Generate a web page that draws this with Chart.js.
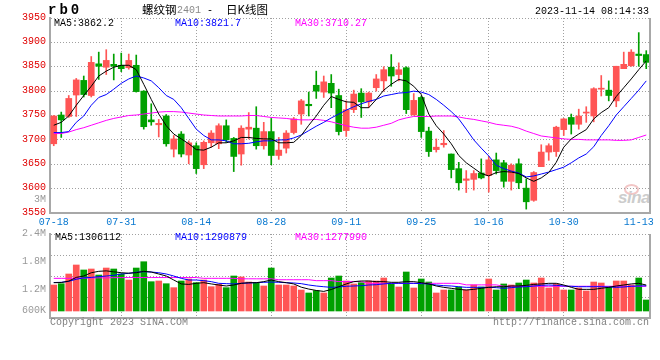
<!DOCTYPE html>
<html><head><meta charset="utf-8">
<script src="https://cdn.jsdelivr.net/npm/chart.js@4.4.0/dist/chart.umd.min.js"></script>
<style>
html,body{margin:0;padding:0;background:#fff;}
#wrap{position:relative;width:660px;height:360px;overflow:hidden;font-family:'Liberation Mono',monospace;font-size:10px;}
canvas{position:absolute;left:0;top:0;}
.t{position:absolute;white-space:pre;line-height:12px;font-family:'Liberation Mono',monospace;font-size:10px;color:#000;}
.cjk{font-family:'Noto Sans CJK SC',sans-serif;font-size:11.5px;line-height:13px;}
</style></head><body>
<div id="wrap">
<div class="t" style="left:624px;top:184px;width:11px;height:7px;border:2px solid #f2c6c6;border-radius:50%;"></div>
<div class="t" style="left:618px;top:189px;font:italic bold 17px 'Liberation Sans',sans-serif;line-height:17px;color:#cccccc;letter-spacing:-0.5px">sina</div>
<canvas id="price" width="660" height="360"></canvas>
<canvas id="vol" width="660" height="360"></canvas>
<div class="t" style="left:48px;top:3px;font:bold 14px 'Liberation Mono',monospace;line-height:14px;letter-spacing:3px">rb0</div>
<div class="t cjk" style="left:142px;top:3px">螺纹钢</div>
<div class="t" style="left:177px;top:5px;color:#888">2401</div>
<div class="t" style="left:207px;top:5px">-</div>
<div class="t cjk" style="left:226px;top:3px">日K线图</div>
<div class="t" style="right:11px;top:6px">2023-11-14 08:14:33</div>
<div class="t" style="left:54px;top:18px;color:#000">MA5:3862.2</div>
<div class="t" style="left:175px;top:18px;color:#0000ff">MA10:3821.7</div>
<div class="t" style="left:295px;top:18px;color:#ff00ff">MA30:3710.27</div>
<div class="t" id="vtop" style="right:614px;top:194px;color:#999999;text-align:right"></div>
<div class="t" style="left:55px;top:232px;color:#000">MA5:1306112</div>
<div class="t" style="left:175px;top:232px;color:#0000ff">MA10:1290879</div>
<div class="t" style="left:295px;top:232px;color:#ff00ff">MA30:1277990</div>
<div class="t" style="left:50px;top:317px;color:#808080">Copyright 2023 SINA.COM</div>
<div class="t" style="right:11px;top:317px;color:#808080">http://finance.sina.com.cn</div>
</div>
<script>
const DATES = ['07-18','07-19','07-20','07-21','07-24','07-25','07-26','07-27','07-28','07-31',
'08-01','08-02','08-03','08-04','08-07','08-08','08-09','08-10','08-11','08-14',
'08-15','08-16','08-17','08-18','08-21','08-22','08-23','08-24','08-25','08-28',
'08-29','08-30','08-31','09-01','09-04','09-05','09-06','09-07','09-08','09-11',
'09-12','09-13','09-14','09-15','09-18','09-19','09-20','09-21','09-22','09-25',
'09-26','09-27','09-28','10-09','10-10','10-11','10-12','10-13','10-16',
'10-17','10-18','10-19','10-20','10-23','10-24','10-25','10-26','10-27','10-30',
'10-31','11-01','11-02','11-03','11-06','11-07','11-08','11-09','11-10','11-13','11-14'];
const TICK_LABELS = ['07-18','07-31','08-14','08-28','09-11','09-25','10-16','10-30','11-13'];
const GRID_DATES = ['07-31','08-14','08-28','09-11','09-25','10-16','10-30'];

const OPEN = [3692,3751,3748,3792,3822,3791,3856,3849,3855,3853,
3848,3853,3800,3741,3731,3749,3681,3712,3669,3688,
3649,3694,3692,3729,3703,3671,3722,3724,3688,3717,
3668,3683,3715,3753,3773,3812,3798,3816,3791,3719,
3762,3796,3778,3807,3821,3849,3834,3848,3751,3787,
3718,3680,3690,3671,3641,3617,3619,3632,3627,3659,
3653,3615,3651,3601,3576,3645,3675,3676,3721,3746,
3732,3755,3749,3804,3802,3780,3846,3852,3876,3875];
const HIGH = [3750,3757,3791,3826,3831,3871,3880,3885,3876,3878,
3876,3874,3801,3774,3742,3752,3709,3717,3698,3694,
3698,3719,3733,3741,3705,3729,3756,3768,3736,3744,
3705,3719,3746,3783,3798,3841,3831,3834,3804,3780,
3802,3805,3798,3834,3850,3875,3858,3850,3795,3790,
3726,3702,3719,3671,3654,3637,3637,3661,3666,3673,
3658,3651,3661,3620,3635,3690,3692,3728,3744,3753,
3763,3768,3807,3832,3821,3851,3880,3885,3920,3883];
const LOW = [3688,3705,3746,3748,3788,3788,3824,3834,3823,3840,
3845,3798,3722,3730,3706,3687,3665,3665,3651,3631,
3641,3685,3682,3695,3635,3648,3702,3681,3681,3649,
3660,3673,3712,3732,3749,3785,3787,3766,3710,3707,
3756,3746,3766,3800,3800,3810,3821,3754,3751,3705,
3666,3675,3685,3622,3597,3592,3597,3620,3593,3630,
3603,3597,3600,3558,3574,3645,3658,3666,3709,3712,
3722,3736,3737,3790,3780,3768,3846,3851,3851,3846];
const CLOSE = [3749,3741,3785,3823,3793,3859,3851,3863,3851,3846,
3863,3799,3727,3737,3734,3692,3702,3671,3694,3641,
3695,3714,3729,3700,3666,3724,3726,3688,3717,3668,
3679,3714,3743,3780,3770,3800,3819,3796,3717,3762,
3794,3778,3796,3825,3844,3831,3844,3762,3781,3717,
3676,3685,3693,3639,3612,3620,3631,3622,3659,3637,
3615,3648,3612,3573,3633,3675,3688,3726,3743,3732,
3749,3757,3805,3806,3791,3851,3855,3880,3873,3859];

const MA5 = [3730,3736,3749,3771,3791,3810,3831,3841,3849,3853,
3853,3844,3814,3783,3753,3729,3712,3702,3692,3680,
3679,3685,3694,3694,3698,3705,3705,3703,3702,3702,
3694,3694,3695,3709,3730,3749,3771,3789,3783,3778,
3777,3766,3766,3783,3802,3814,3824,3821,3810,3793,
3753,3729,3712,3692,3668,3653,3642,3631,3626,3633,
3635,3634,3631,3622,3615,3622,3633,3654,3685,3702,
3712,3721,3743,3756,3766,3789,3807,3825,3844,3862];
const MA10 = [3715,3715,3717,3736,3749,3771,3787,3793,3804,3816,
3825,3831,3827,3821,3807,3791,3783,3766,3744,3722,
3709,3700,3700,3698,3692,3692,3693,3696,3698,3698,
3700,3700,3704,3710,3719,3728,3736,3745,3753,3761,
3768,3774,3779,3783,3790,3793,3796,3797,3800,3798,
3793,3783,3771,3758,3743,3722,3700,3683,3667,3648,
3641,3636,3632,3624,3626,3630,3634,3639,3644,3653,
3663,3671,3686,3709,3729,3751,3768,3785,3802,3821];
const MA30 = [3713,3713,3716,3721,3725,3730,3735,3740,3744,3747,
3750,3751,3753,3755,3757,3758,3758,3757,3755,3753,
3751,3750,3749,3749,3749,3749,3750,3750,3748,3746,
3745,3744,3742,3741,3741,3742,3740,3737,3733,3729,
3726,3724,3724,3726,3730,3734,3741,3745,3748,3748,
3748,3749,3749,3749,3747,3744,3742,3739,3736,3732,
3730,3728,3724,3718,3713,3708,3706,3704,3702,3701,
3701,3700,3700,3700,3700,3699,3699,3700,3705,3710];

const VOLUME = [1307000,1335000,1543000,1736000,1629000,1650000,1521000,1671000,1650000,1543000,
1414000,1671000,1806000,1378000,1393000,1335000,1250000,1393000,1436000,1357000,
1414000,1271000,1322000,1250000,1500000,1479000,1371000,1357000,1286000,1671000,
1307000,1307000,1286000,1200000,1136000,1186000,1136000,1457000,1500000,1393000,
1329000,1357000,1393000,1393000,1457000,1329000,1264000,1586000,1243000,1436000,
1371000,1136000,1200000,1200000,1264000,1200000,1307000,1264000,1436000,1200000,
1329000,1307000,1350000,1414000,1350000,1457000,1243000,1329000,1200000,1200000,
1243000,1179000,1371000,1350000,1264000,1393000,1393000,1307000,1457000,986000];
const VMA5 = [1357000,1360000,1390000,1470000,1500000,1570000,1600000,1610000,1590000,1570000,
1560000,1570000,1600000,1585000,1543000,1500000,1414000,1330000,1320000,1343000,
1357000,1330000,1307000,1286000,1307000,1343000,1357000,1357000,1379000,1414000,
1379000,1357000,1330000,1260000,1220000,1190000,1170000,1210000,1270000,1330000,
1379000,1393000,1393000,1379000,1379000,1365000,1365000,1379000,1379000,1357000,
1330000,1286000,1257000,1236000,1214000,1200000,1214000,1236000,1257000,1270000,
1270000,1286000,1286000,1300000,1320000,1330000,1343000,1343000,1307000,1257000,
1214000,1214000,1214000,1236000,1257000,1286000,1307000,1330000,1343000,1306000];
const VMA10 = [1360000,1365000,1386000,1430000,1460000,1470000,1486000,1500000,1515000,1543000,
1557000,1580000,1593000,1585000,1570000,1543000,1500000,1450000,1414000,1414000,
1400000,1379000,1343000,1336000,1330000,1343000,1350000,1357000,1365000,1370000,
1365000,1357000,1350000,1336000,1307000,1286000,1270000,1257000,1264000,1280000,
1286000,1293000,1307000,1314000,1330000,1343000,1343000,1343000,1343000,1336000,
1330000,1307000,1293000,1286000,1270000,1257000,1257000,1257000,1257000,1250000,
1236000,1250000,1264000,1270000,1286000,1300000,1307000,1300000,1286000,1280000,
1270000,1270000,1270000,1270000,1264000,1257000,1264000,1280000,1286000,1291000];
const VMA30 = [1450000,1450000,1450000,1455000,1455000,1460000,1460000,1460000,1465000,1465000,
1467000,1467000,1467000,1467000,1467000,1467000,1467000,1467000,1467000,1467000,
1450000,1450000,1450000,1450000,1450000,1440000,1440000,1440000,1440000,1440000,
1420000,1420000,1420000,1420000,1420000,1400000,1400000,1400000,1380000,1380000,
1380000,1380000,1343000,1343000,1343000,1343000,1343000,1343000,1343000,1343000,
1343000,1343000,1343000,1343000,1343000,1310000,1310000,1310000,1310000,1310000,
1280000,1280000,1280000,1280000,1280000,1280000,1280000,1280000,1280000,1280000,
1280000,1280000,1280000,1280000,1280000,1280000,1280000,1280000,1280000,1278000];

const PRICE_MIN = 3550, PRICE_MAX = 3950, PRICE_STEP = 50;
const VOL_MIN = 600000, VOL_MAX = 2400000, VOL_GRID_STEP = 450000, VOL_BASE = 750000;
const VOL_TICK_VALUES = [600000, 1200000, 1800000, 2400000];
const VOL_TICK_LABELS = ['600K', '1.2M', '1.8M', '2.4M'];
const VOL_TOP_LABEL = '3M';
document.getElementById('vtop').textContent = VOL_TOP_LABEL;

const RED = '#ff5555', GREEN = '#00a000';
const GRID = '#a0a0a0', FRAME = '#a8a8a8';
const colors = CLOSE.map((c, i) => c >= OPEN[i] ? RED : GREEN);

Chart.defaults.font.family = "'Liberation Mono', monospace";
Chart.defaults.font.size = 10;

const frame = {
  id: 'frame',
  afterDraw(chart) {
    const a = chart.chartArea, ctx = chart.ctx;
    ctx.save();
    ctx.strokeStyle = FRAME; ctx.lineWidth = 2;
    ctx.beginPath(); ctx.moveTo(a.right, a.top); ctx.lineTo(a.right, a.bottom); ctx.stroke();
    ctx.restore();
  }
};

function xAxis(showLabels) {
  return {
    offset: true,
    grid: { offset: false, drawTicks: false, lineWidth: 1,
      color: c => GRID_DATES.includes(DATES[c.index]) ? GRID : 'rgba(0,0,0,0)' },
    border: { display: true, color: FRAME, width: 2, dash: [1, 2] },
    ticks: { display: showLabels, autoSkip: false, maxRotation: 0, minRotation: 0, padding: 3,
      color: '#0878d0',
      callback: (v, i) => TICK_LABELS.includes(DATES[i]) ? DATES[i] : '' },
    afterFit: s => { s.height = showLabels ? 20 : 0; }
  };
}
const lineDs = (data, color, axis) => ({ type: 'line', data, borderColor: color, borderWidth: 1,
  pointRadius: 0, tension: 0, fill: false, order: 0, yAxisID: axis });

new Chart(document.getElementById('price'), {
  type: 'bar',
  data: {
    labels: DATES,
    datasets: [
      lineDs(MA5, '#000000', 'y'),
      lineDs(MA10, '#0000ff', 'y'),
      lineDs(MA30, '#ff00ff', 'y'),
      { type: 'bar', data: OPEN.map((o, i) => [o, CLOSE[i]]), backgroundColor: colors, borderWidth: 0,
        barThickness: 6, minBarLength: 1, grouped: false, order: 1, yAxisID: 'y' },
      { type: 'bar', data: LOW.map((l, i) => [l, HIGH[i]]), backgroundColor: colors, borderWidth: 0,
        barThickness: 1, grouped: false, order: 2, yAxisID: 'y' }
    ]
  },
  options: {
    responsive: false, animation: false, devicePixelRatio: 1,
    layout: { padding: { left: 0, right: 10, top: 18, bottom: 127 } },
    plugins: { legend: { display: false }, tooltip: { enabled: false } },
    scales: {
      x: xAxis(true),
      y: { min: PRICE_MIN, max: PRICE_MAX,
        ticks: { stepSize: PRICE_STEP, color: '#e00000', padding: 4, labelOffset: -1,
          callback: v => String(v) },
        grid: { color: GRID, drawTicks: false },
        border: { display: true, color: FRAME, width: 2, dash: [1, 2] },
        afterFit: s => { s.width = 50; } }
    }
  },
  plugins: [frame]
});

new Chart(document.getElementById('vol'), {
  type: 'bar',
  data: {
    labels: DATES,
    datasets: [
      lineDs(VMA5, '#000000', 'y'),
      lineDs(VMA10, '#0000ff', 'y'),
      lineDs(VMA30, '#ff00ff', 'y'),
      { type: 'bar', data: VOLUME, base: VOL_BASE, backgroundColor: colors, borderWidth: 0,
        barThickness: 6, order: 1, yAxisID: 'y' }
    ]
  },
  options: {
    responsive: false, animation: false, devicePixelRatio: 1,
    layout: { padding: { left: 0, right: 10, top: 234, bottom: 42 } },
    plugins: { legend: { display: false }, tooltip: { enabled: false } },
    scales: {
      x: xAxis(false),
      y: { position: 'left', weight: 0, min: VOL_MIN, max: VOL_MAX,
        ticks: { display: false, stepSize: VOL_GRID_STEP },
        grid: { color: GRID, drawTicks: false },
        border: { display: true, color: FRAME, width: 2, dash: [1, 2] },
        afterFit: s => { s.width = 0; } },
      yl: { position: 'left', weight: 1, min: VOL_MIN, max: VOL_MAX,
        grid: { display: false, drawTicks: false }, border: { display: false },
        ticks: { autoSkip: false, color: '#999999', padding: 4, labelOffset: -1,
          callback: (v, i) => VOL_TICK_LABELS[i] },
        afterBuildTicks: s => { s.ticks = VOL_TICK_VALUES.map(v => ({ value: Math.max(v, VOL_BASE) })); },
        afterFit: s => { s.width = 50; } }
    }
  },
  plugins: [frame]
});
</script>
</body></html>
